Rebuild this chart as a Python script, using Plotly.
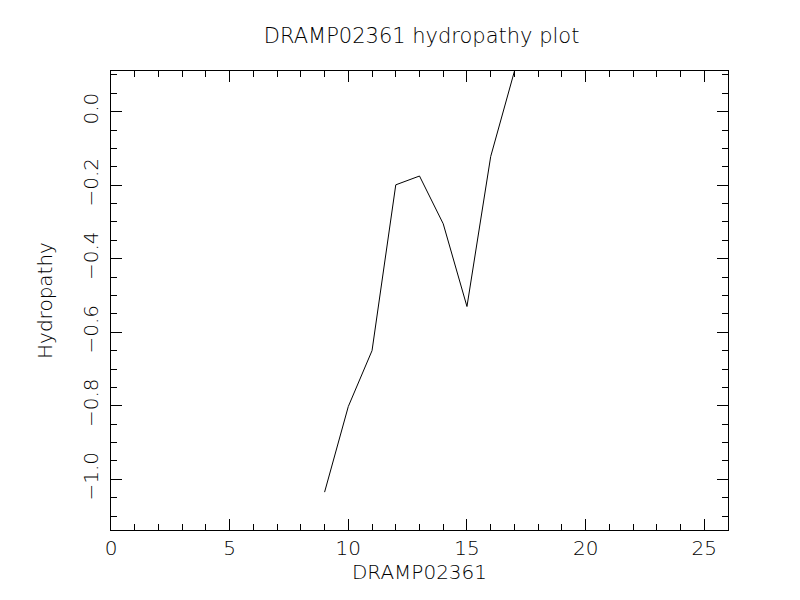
import plotly.graph_objects as go

positions = [9, 10, 11, 12, 13, 14, 15, 16, 17]
hydropathy = [-1.035, -0.802, -0.650, -0.199, -0.175, -0.305, -0.530, -0.122, 0.11]

x_ticks = [0, 5, 10, 15, 20, 25]
y_ticks = [-1.0, -0.8, -0.6, -0.4, -0.2, 0.0]
y_tick_labels = ["\u22121.0", "\u22120.8", "\u22120.6", "\u22120.4", "\u22120.2", "0.0"]

FONT = "DejaVu Sans"

fig = go.Figure()
fig.add_trace(go.Scatter(x=positions, y=hydropathy, mode="lines",
                         line=dict(color="black", width=1), showlegend=False,
                         cliponaxis=True))

fig.update_layout(
    width=800, height=600,
    margin=dict(l=111, r=72, t=71, b=70),
    paper_bgcolor="white", plot_bgcolor="white",
    title=dict(text="DRAMP02361 hydropathy plot", x=0.527, xanchor="center",
               y=1 - 36 / 600, yanchor="middle", yref="container",
               font=dict(family=FONT, size=21, color="black", weight=200)),
    font=dict(family=FONT, color="black"),
)

fig.update_xaxes(
    range=[0, 26], showgrid=False, zeroline=False,
    showline=True, linecolor="black", linewidth=1, mirror="ticks",
    ticks="inside", ticklen=11, tickcolor="black", tickwidth=1,
    tickvals=x_ticks, ticktext=[str(v) for v in x_ticks],
    tickfont=dict(family=FONT, size=20, color="black", weight=200),
    minor=dict(dtick=1, tick0=0, ticks="inside", ticklen=6, tickcolor="black", tickwidth=1),
    title=dict(text="DRAMP02361", font=dict(family=FONT, size=20, color="black", weight=200), standoff=5),
)
fig.update_yaxes(
    range=[-1.138, 0.1107], showgrid=False, zeroline=False,
    showline=True, linecolor="black", linewidth=1, mirror="ticks",
    ticks="inside", ticklen=11, tickcolor="black", tickwidth=1,
    tickvals=y_ticks, ticktext=y_tick_labels, tickangle=-90,
    tickfont=dict(family=FONT, size=20, color="black", weight=200),
    ticklabelstandoff=4,
    minor=dict(dtick=0.05, tick0=0, ticks="inside", ticklen=6, tickcolor="black", tickwidth=1),
    title=dict(text="Hydropathy", font=dict(family=FONT, size=20, color="black", weight=200), standoff=21),
)

fig.write_html("out.html")
